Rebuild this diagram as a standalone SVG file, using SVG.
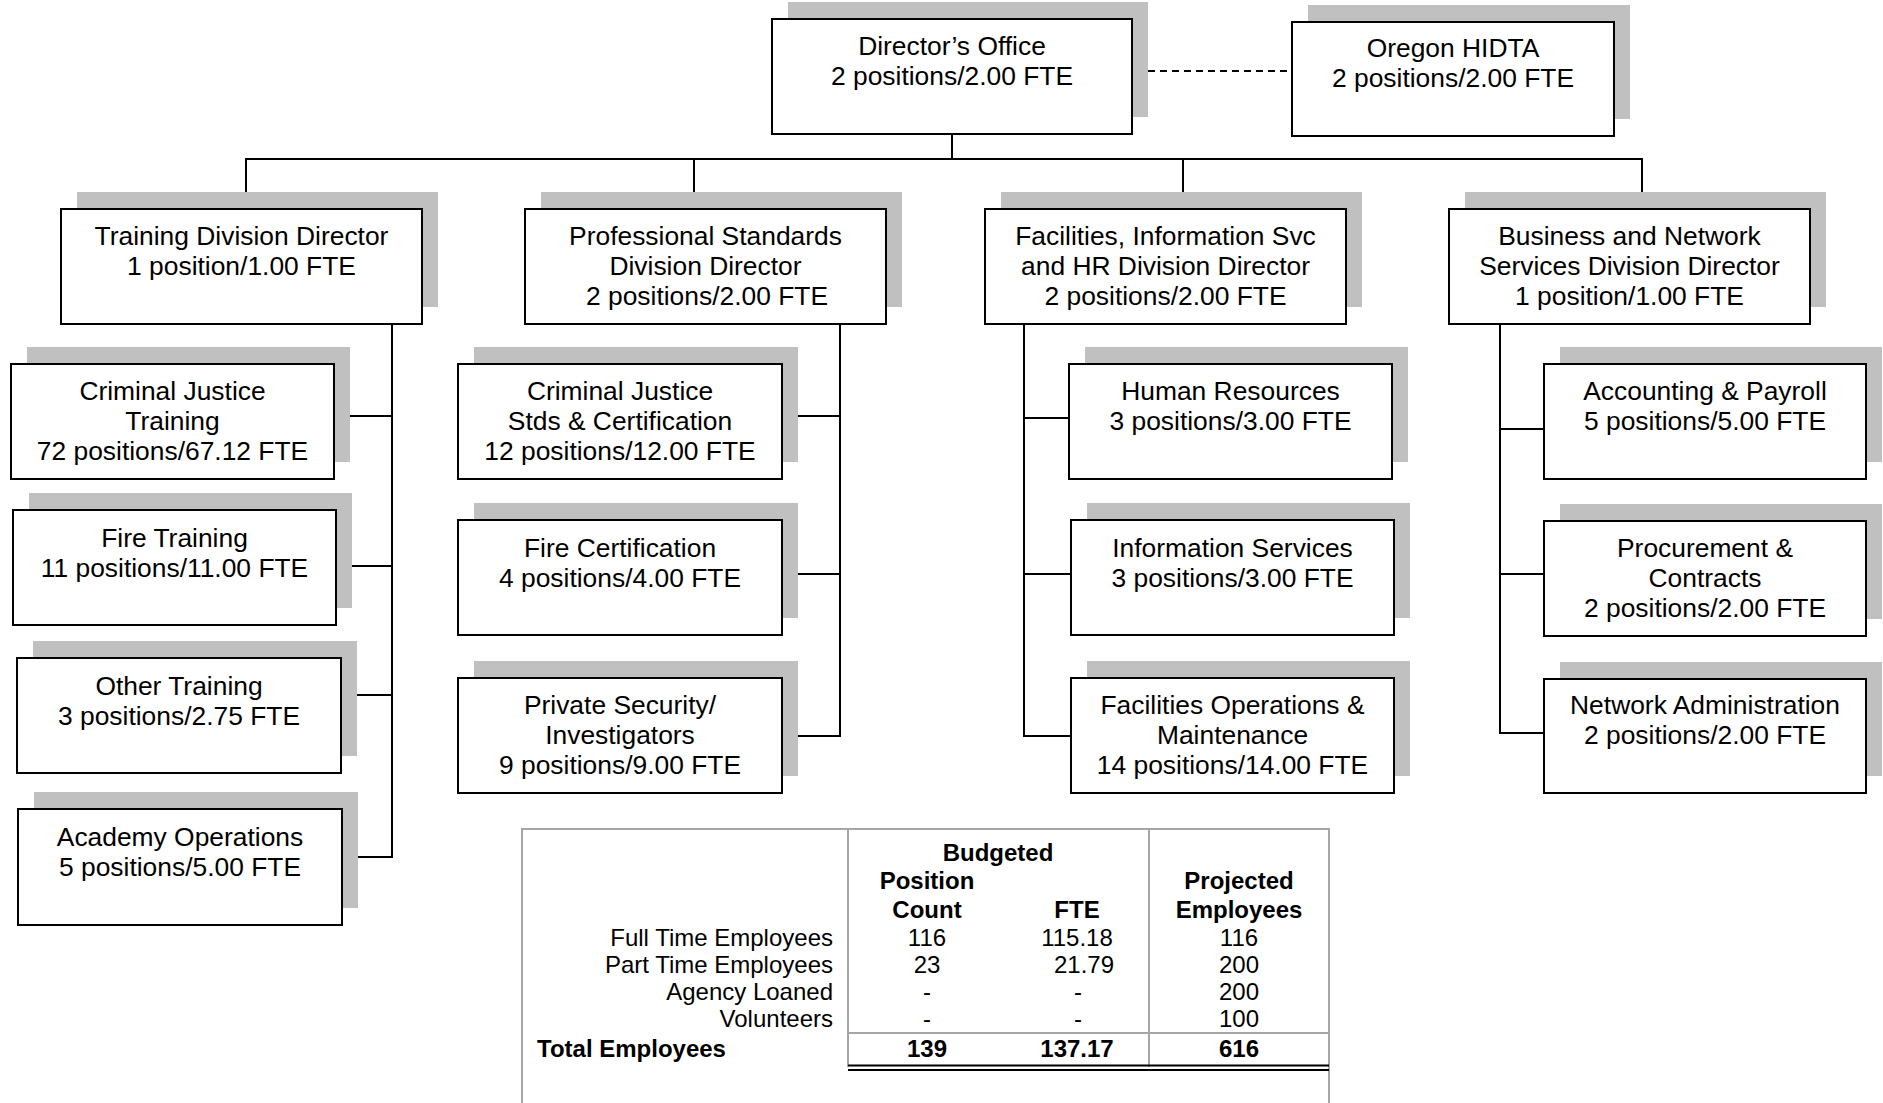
<svg xmlns="http://www.w3.org/2000/svg" width="1883" height="1103" viewBox="0 0 1883 1103">
  <style>
    .shadow { fill: #c0c0c0; }
    .box { fill: #ffffff; stroke: #000000; stroke-width: 2; }
    .ln { stroke: #000000; stroke-width: 2; fill: none; }
    .dash { stroke: #000000; stroke-width: 2; fill: none; stroke-dasharray: 7 5; }
    .t { font-family: "Liberation Sans", Arial, sans-serif; font-size: 26.4px; text-anchor: middle; fill: #000000; }
    .tb { font-family: "Liberation Sans", Arial, sans-serif; font-size: 24px; fill: #000000; }
    .c { text-anchor: middle; }
    .r { text-anchor: end; }
    .b { font-weight: bold; }
    .grid { stroke: #a6a6a6; stroke-width: 2; fill: none; }
    .dbl { stroke: #000000; stroke-width: 2; fill: none; }
  </style>

  <rect width="1883" height="1103" fill="#ffffff"/>

  <!-- reporting lines -->
  <g id="connectors">
    <line class="dash" x1="1148" y1="71" x2="1292" y2="71"/>
    <line class="ln" x1="952" y1="134" x2="952" y2="159"/>
    <line class="ln" x1="245" y1="159" x2="1643" y2="159"/>
    <line class="ln" x1="246" y1="159" x2="246" y2="209"/>
    <line class="ln" x1="694" y1="159" x2="694" y2="209"/>
    <line class="ln" x1="1183" y1="159" x2="1183" y2="209"/>
    <line class="ln" x1="1642" y1="159" x2="1642" y2="209"/>

    <!-- Training division -->
    <polyline class="ln" points="392,324 392,857 342,857"/>
    <line class="ln" x1="334" y1="416" x2="392" y2="416"/>
    <line class="ln" x1="336" y1="566" x2="392" y2="566"/>
    <line class="ln" x1="341" y1="695" x2="392" y2="695"/>

    <!-- Professional Standards division -->
    <polyline class="ln" points="840,324 840,736 782,736"/>
    <line class="ln" x1="782" y1="416" x2="840" y2="416"/>
    <line class="ln" x1="782" y1="574" x2="840" y2="574"/>

    <!-- Facilities / IS / HR division -->
    <polyline class="ln" points="1024,324 1024,736 1071,736"/>
    <line class="ln" x1="1024" y1="418" x2="1069" y2="418"/>
    <line class="ln" x1="1024" y1="574" x2="1071" y2="574"/>

    <!-- Business and Network division -->
    <polyline class="ln" points="1500,324 1500,733 1544,733"/>
    <line class="ln" x1="1500" y1="429" x2="1544" y2="429"/>
    <line class="ln" x1="1500" y1="574" x2="1544" y2="574"/>
  </g>

  <!-- top level -->
  <g id="directors-office">
    <rect class="shadow" x="788" y="2" width="360" height="115"/>
    <rect class="box" x="772" y="19" width="360" height="115"/>
    <text class="t"><tspan x="952" y="55">Director’s Office</tspan><tspan x="952" y="85">2 positions/2.00 FTE</tspan></text>
  </g>
  <g id="oregon-hidta">
    <rect class="shadow" x="1308" y="5" width="322" height="114"/>
    <rect class="box" x="1292" y="22" width="322" height="114"/>
    <text class="t"><tspan x="1453" y="57">Oregon HIDTA</tspan><tspan x="1453" y="87">2 positions/2.00 FTE</tspan></text>
  </g>

  <!-- division directors -->
  <g id="training-director">
    <rect class="shadow" x="77" y="192" width="361" height="115"/>
    <rect class="box" x="61" y="209" width="361" height="115"/>
    <text class="t"><tspan x="241.5" y="245">Training Division Director</tspan><tspan x="241.5" y="275">1 position/1.00 FTE</tspan></text>
  </g>
  <g id="professional-standards-director">
    <rect class="shadow" x="541" y="192" width="361" height="115"/>
    <rect class="box" x="525" y="209" width="361" height="115"/>
    <text class="t"><tspan x="705.5" y="245">Professional Standards</tspan><tspan x="705.5" y="275">Division Director</tspan><tspan x="707" y="305">2 positions/2.00 FTE</tspan></text>
  </g>
  <g id="facilities-director">
    <rect class="shadow" x="1001" y="192" width="361" height="115"/>
    <rect class="box" x="985" y="209" width="361" height="115"/>
    <text class="t"><tspan x="1165.5" y="245">Facilities, Information Svc</tspan><tspan x="1165.5" y="275">and HR Division Director</tspan><tspan x="1165.5" y="305">2 positions/2.00 FTE</tspan></text>
  </g>
  <g id="business-director">
    <rect class="shadow" x="1465" y="192" width="361" height="115"/>
    <rect class="box" x="1449" y="209" width="361" height="115"/>
    <text class="t"><tspan x="1629.5" y="245">Business and Network</tspan><tspan x="1629.5" y="275">Services Division Director</tspan><tspan x="1629.5" y="305">1 position/1.00 FTE</tspan></text>
  </g>

  <!-- Training units -->
  <g id="cj-training">
    <rect class="shadow" x="27" y="347" width="323" height="115"/>
    <rect class="box" x="11" y="364" width="323" height="115"/>
    <text class="t"><tspan x="172.5" y="400">Criminal Justice</tspan><tspan x="172.5" y="430">Training</tspan><tspan x="172.5" y="460">72 positions/67.12 FTE</tspan></text>
  </g>
  <g id="fire-training">
    <rect class="shadow" x="29" y="493" width="323" height="115"/>
    <rect class="box" x="13" y="510" width="323" height="115"/>
    <text class="t"><tspan x="174.5" y="547">Fire Training</tspan><tspan x="174.5" y="577">11 positions/11.00 FTE</tspan></text>
  </g>
  <g id="other-training">
    <rect class="shadow" x="33" y="641" width="324" height="115"/>
    <rect class="box" x="17" y="658" width="324" height="115"/>
    <text class="t"><tspan x="179" y="695">Other Training</tspan><tspan x="179" y="725">3 positions/2.75 FTE</tspan></text>
  </g>
  <g id="academy-operations">
    <rect class="shadow" x="34" y="792" width="324" height="116"/>
    <rect class="box" x="18" y="809" width="324" height="116"/>
    <text class="t"><tspan x="180" y="846">Academy Operations</tspan><tspan x="180" y="876">5 positions/5.00 FTE</tspan></text>
  </g>

  <!-- Professional Standards units -->
  <g id="cj-standards">
    <rect class="shadow" x="474" y="347" width="324" height="115"/>
    <rect class="box" x="458" y="364" width="324" height="115"/>
    <text class="t"><tspan x="620" y="400">Criminal Justice</tspan><tspan x="620" y="430">Stds &amp; Certification</tspan><tspan x="620" y="460">12 positions/12.00 FTE</tspan></text>
  </g>
  <g id="fire-certification">
    <rect class="shadow" x="474" y="503" width="324" height="115"/>
    <rect class="box" x="458" y="520" width="324" height="115"/>
    <text class="t"><tspan x="620" y="557">Fire Certification</tspan><tspan x="620" y="587">4 positions/4.00 FTE</tspan></text>
  </g>
  <g id="private-security">
    <rect class="shadow" x="474" y="661" width="324" height="115"/>
    <rect class="box" x="458" y="678" width="324" height="115"/>
    <text class="t"><tspan x="620" y="714">Private Security/</tspan><tspan x="620" y="744">Investigators</tspan><tspan x="620" y="774">9 positions/9.00 FTE</tspan></text>
  </g>

  <!-- Facilities / IS / HR units -->
  <g id="human-resources">
    <rect class="shadow" x="1085" y="347" width="323" height="115"/>
    <rect class="box" x="1069" y="364" width="323" height="115"/>
    <text class="t"><tspan x="1230.5" y="400">Human Resources</tspan><tspan x="1230.5" y="430">3 positions/3.00 FTE</tspan></text>
  </g>
  <g id="information-services">
    <rect class="shadow" x="1087" y="503" width="323" height="115"/>
    <rect class="box" x="1071" y="520" width="323" height="115"/>
    <text class="t"><tspan x="1232.5" y="557">Information Services</tspan><tspan x="1232.5" y="587">3 positions/3.00 FTE</tspan></text>
  </g>
  <g id="facilities-operations">
    <rect class="shadow" x="1087" y="661" width="323" height="115"/>
    <rect class="box" x="1071" y="678" width="323" height="115"/>
    <text class="t"><tspan x="1232.5" y="714">Facilities Operations &amp;</tspan><tspan x="1232.5" y="744">Maintenance</tspan><tspan x="1232.5" y="774">14 positions/14.00 FTE</tspan></text>
  </g>

  <!-- Business and Network units -->
  <g id="accounting-payroll">
    <rect class="shadow" x="1560" y="347" width="322" height="115"/>
    <rect class="box" x="1544" y="364" width="322" height="115"/>
    <text class="t"><tspan x="1705" y="400">Accounting &amp; Payroll</tspan><tspan x="1705" y="430">5 positions/5.00 FTE</tspan></text>
  </g>
  <g id="procurement-contracts">
    <rect class="shadow" x="1560" y="504" width="322" height="115"/>
    <rect class="box" x="1544" y="521" width="322" height="115"/>
    <text class="t"><tspan x="1705" y="557">Procurement &amp;</tspan><tspan x="1705" y="587">Contracts</tspan><tspan x="1705" y="617">2 positions/2.00 FTE</tspan></text>
  </g>
  <g id="network-administration">
    <rect class="shadow" x="1560" y="662" width="322" height="114"/>
    <rect class="box" x="1544" y="679" width="322" height="114"/>
    <text class="t"><tspan x="1705" y="714">Network Administration</tspan><tspan x="1705" y="744">2 positions/2.00 FTE</tspan></text>
  </g>

  <!-- staffing summary table -->
  <g id="summary-table">
    <rect class="grid" x="522" y="829" width="807" height="300"/>
    <line class="grid" x1="848" y1="829" x2="848" y2="1067"/>
    <line class="grid" x1="1149" y1="829" x2="1149" y2="1067"/>
    <line class="grid" x1="848" y1="1033" x2="1329" y2="1033"/>
    <line class="dbl" x1="848" y1="1065.5" x2="1329" y2="1065.5"/>
    <line class="dbl" x1="848" y1="1070" x2="1329" y2="1070"/>

    <text class="tb b c" x="998" y="861">Budgeted</text>
    <text class="tb b c" x="927" y="889">Position</text>
    <text class="tb b c" x="927" y="918">Count</text>
    <text class="tb b c" x="1077" y="918">FTE</text>
    <text class="tb b c" x="1239" y="889">Projected</text>
    <text class="tb b c" x="1239" y="918">Employees</text>

    <text class="tb r" x="833" y="946">Full Time Employees</text>
    <text class="tb r" x="833" y="973">Part Time Employees</text>
    <text class="tb r" x="833" y="1000">Agency Loaned</text>
    <text class="tb r" x="833" y="1027">Volunteers</text>

    <text class="tb c" x="927" y="946">116</text>
    <text class="tb c" x="927" y="973">23</text>
    <text class="tb c" x="927" y="1000">-</text>
    <text class="tb c" x="927" y="1027">-</text>

    <text class="tb c" x="1077" y="946">115.18</text>
    <text class="tb c" x="1084" y="973">21.79</text>
    <text class="tb c" x="1078" y="1000">-</text>
    <text class="tb c" x="1078" y="1027">-</text>

    <text class="tb c" x="1239" y="946">116</text>
    <text class="tb c" x="1239" y="973">200</text>
    <text class="tb c" x="1239" y="1000">200</text>
    <text class="tb c" x="1239" y="1027">100</text>

    <text class="tb b" x="537" y="1057">Total Employees</text>
    <text class="tb b c" x="927" y="1057">139</text>
    <text class="tb b c" x="1077" y="1057">137.17</text>
    <text class="tb b c" x="1239" y="1057">616</text>
  </g>
</svg>
